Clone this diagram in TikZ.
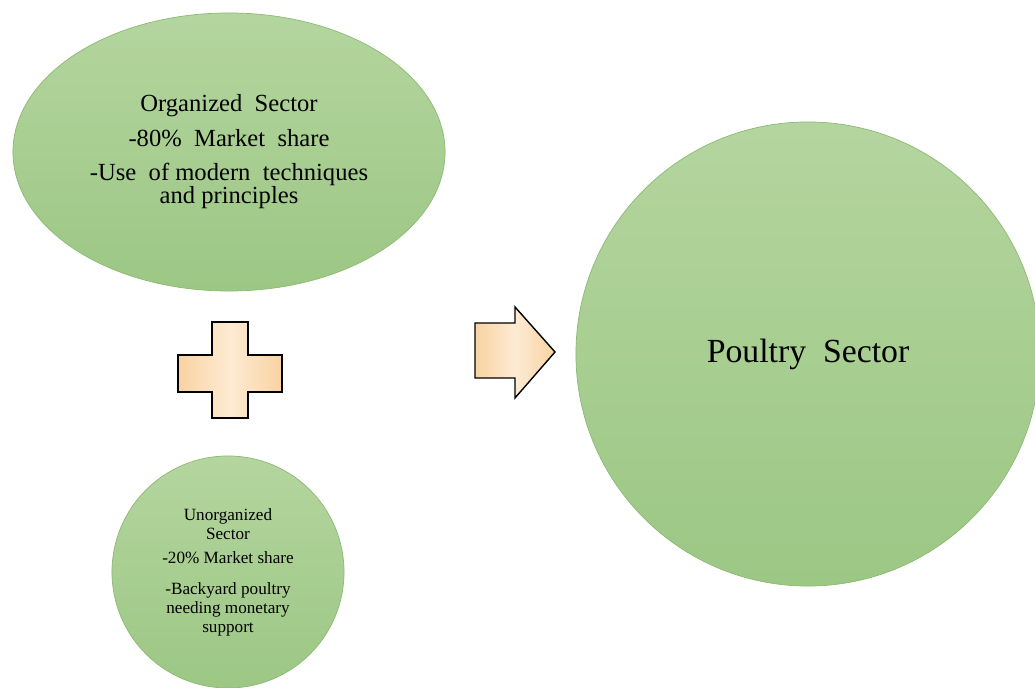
\documentclass[tikz,border=0pt]{standalone}
\usepackage{fontspec}
\setmainfont{Liberation Serif}
\usepackage{xcolor}
\usepackage{tikz}
\usetikzlibrary{positioning, shapes.geometric}
\definecolor{sectortop}{HTML}{B4D59F}
\definecolor{sectorbottom}{HTML}{9CC784}
\definecolor{sectorborder}{HTML}{8DBA73}
\definecolor{symbolfill}{HTML}{F9D2A2}
\definecolor{symbollight}{HTML}{FDEBD3}

\begin{document}
\begin{tikzpicture}[
  x=0.025cm, y=-0.025cm,
  sector/.style={inner sep=0pt, draw=sectorborder, line width=0.5pt,
                 top color=sectortop, bottom color=sectorbottom, align=center},
  bigtext/.style={font=\fontsize{17.5}{16.5}\selectfont},
  smalltext/.style={font=\fontsize{12.2}{13.5}\selectfont},
  symbolshape/.style={draw=black, line width=1pt, line join=miter,
                      left color=symbolfill, right color=symbolfill, middle color=symbollight}
]
  \useasboundingbox (0,0) rectangle (1035,688);

  \node[sector, ellipse, minimum width=10.8cm, minimum height=6.95cm, bigtext] (organized) at (229,152)
    {Organized\ \ Sector\\[8pt] -80\%\ \ Market\ \ share\\[8pt] -Use\ \ of modern\ \ techniques\\ and principles};
  \node[sector, circle, minimum size=5.8cm, smalltext] (unorganized) at (228,572)
    {Unorganized\\ Sector\\[4pt] -20\% Market share\\[8pt] -Backyard poultry\\ needing monetary\\ support};
  \node[sector, circle, minimum size=11.6cm, font=\fontsize{24}{28}\selectfont] (poultry) at (808,354)
    {Poultry\ \ Sector};

  % plus sign
  \draw[symbolshape] (212,322) -- (248,322) -- (248,355) -- (282,355) -- (282,392) -- (248,392)
    -- (248,418) -- (212,418) -- (212,392) -- (178,392) -- (178,355) -- (212,355) -- cycle;

  % block arrow
  \draw[symbolshape] (475,323) -- (515,323) -- (515,307) -- (555,352) -- (515,398)
    -- (515,378) -- (475,378) -- cycle;
\end{tikzpicture}
\end{document}
